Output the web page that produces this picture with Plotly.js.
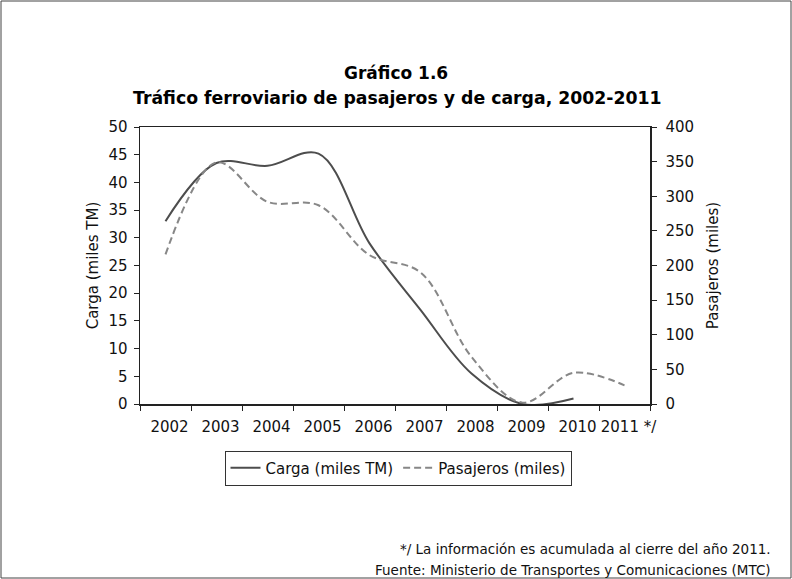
<!DOCTYPE html>
<html>
<head>
<meta charset="utf-8">
<script src="https://cdn.plot.ly/plotly-3.0.1.min.js"></script>
<style>
html,body{margin:0;padding:0;background:#fff;}
#chart{width:792px;height:579px;}
</style>
</head>
<body>
<div id="chart"></div>
<script>
const years = ["2002","2003","2004","2005","2006","2007","2008","2009","2010","2011 */"];
const carga = [33, 43.5, 43, 45.2, 29, 17, 5.5, 0, 1, null];
const pasajeros = [216, 349, 292, 287, 215, 190, 68, 2, 45, 27];

const W = 792, H = 579;
const L = 140, R = 650, T = 127, B = 404;
const px = x => (x - L) / (R - L);
const py = y => (B - y) / (B - T);

const font = "DejaVu Sans, Liberation Sans, Arial, sans-serif";

const traces = [
  {
    x: years, y: carga, name: "Carga (miles TM)", type: "scatter", mode: "lines",
    line: {color: "#4d4d4d", width: 2, shape: "spline", smoothing: 1},
    yaxis: "y", connectgaps: false
  },
  {
    x: years, y: pasajeros, name: "Pasajeros (miles)", type: "scatter", mode: "lines",
    line: {color: "#878787", width: 2, dash: "7px,4px", shape: "spline", smoothing: 1},
    yaxis: "y2"
  }
];

const layout = {
  width: W, height: H,
  margin: {l: L, r: W - R, t: T, b: H - B, pad: 0},
  paper_bgcolor: "#fff", plot_bgcolor: "#fff",
  font: {family: font, size: 15, color: "#111"},
  showlegend: true,
  legend: {
    orientation: "h", x: px(398), y: py(468), xanchor: "center", yanchor: "middle",
    bordercolor: "#333", borderwidth: 1, font: {size: 15, color: "#111"},
    itemwidth: 30, tracegroupgap: 0
  },
  xaxis: {
    type: "category", range: [-0.5, 9.5],
    showline: true, linecolor: "#222", linewidth: 1.5, mirror: true,
    ticks: "outside", tickson: "boundaries", ticklen: 5, tickcolor: "#222",
    showgrid: false, zeroline: false, tickangle: 0,
    tickfont: {size: 15, color: "#111"}, ticklabelshift: 4, ticklabelstandoff: 8
  },
  yaxis: {
    range: [0, 50], dtick: 5, showline: true, linecolor: "#222", linewidth: 1.5,
    ticks: "outside", ticklen: 5, tickcolor: "#222", showgrid: false, zeroline: false,
    tickfont: {size: 15, color: "#111"}, ticklabelstandoff: 3,
    title: {text: "Carga (miles TM)", font: {size: 15, color: "#111"}, standoff: 6}
  },
  yaxis2: {
    range: [0, 400], dtick: 50, overlaying: "y", side: "right",
    showline: true, linecolor: "#222", linewidth: 1.5,
    ticks: "outside", ticklen: 5, tickcolor: "#222", showgrid: false, zeroline: false,
    tickfont: {size: 15, color: "#111"}, ticklabelstandoff: 6,
    title: {text: "Pasajeros (miles)", font: {size: 15, color: "#111"}, standoff: 14}
  },
  annotations: [
    {text: "<b>Gráfico 1.6</b>", xref: "paper", yref: "paper", x: px(396), y: py(73),
     xanchor: "center", yanchor: "middle", showarrow: false, font: {size: 17, color: "#000"}},
    {text: "<b>Tráfico ferroviario de pasajeros y de carga, 2002-2011</b>", xref: "paper", yref: "paper",
     x: px(397), y: py(98), xanchor: "center", yanchor: "middle", showarrow: false,
     font: {size: 17.3, color: "#000"}},
    {text: "*/ La información es acumulada al cierre del año 2011.", xref: "paper", yref: "paper",
     x: px(773), y: py(549), xanchor: "right", yanchor: "middle", showarrow: false,
     font: {size: 13.5, color: "#111"}},
    {text: "Fuente: Ministerio de Transportes y Comunicaciones (MTC)", xref: "paper", yref: "paper",
     x: px(773), y: py(570), xanchor: "right", yanchor: "middle", showarrow: false,
     font: {size: 13.5, color: "#111"}}
  ],
  shapes: [
    {type: "rect", xref: "paper", yref: "paper",
     x0: px(1), x1: px(791), y0: py(578), y1: py(1),
     line: {color: "#444", width: 1}, fillcolor: "rgba(0,0,0,0)"}
  ]
};

Plotly.newPlot("chart", traces, layout, {displayModeBar: false, staticPlot: true});
</script>
</body>
</html>
